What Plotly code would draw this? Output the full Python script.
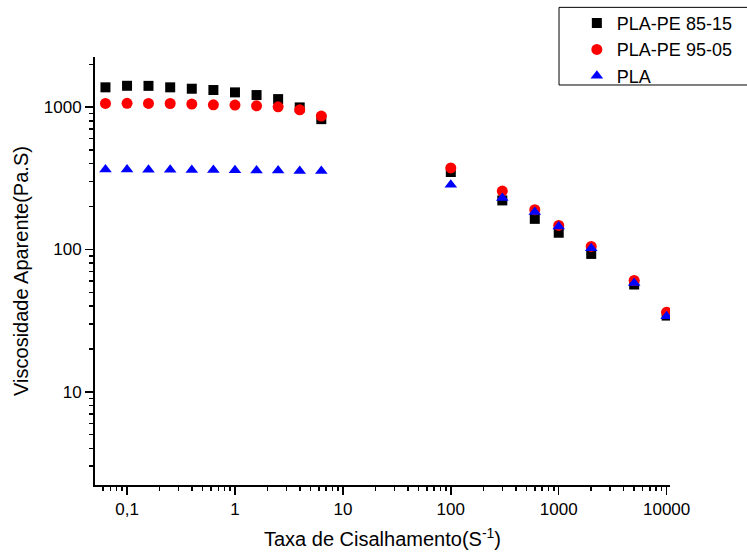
import plotly.graph_objects as go

# Shear rate (1/s)
shear_rate = [0.0631, 0.1, 0.158, 0.251, 0.398, 0.631, 1.0, 1.585, 2.512, 3.981, 6.31,
              100, 300, 600, 1000, 2000, 5000, 10000]

# Apparent viscosity (Pa.s)
visc_85_15 = [1377, 1412, 1410, 1377, 1346, 1318, 1269, 1215, 1138, 995, 823,
              350, 221, 164, 131, 93, 56.7, 34.3]
visc_95_05 = [1062, 1064, 1062, 1060, 1050, 1038, 1033, 1021, 1005, 957, 865,
              374, 257, 190, 147.5, 105, 60.5, 36.2]
visc_pla = [365, 364, 363, 363, 362, 361, 360, 359, 358, 356, 355,
            285, 230, 183, 145, 102, 58, 33.9]

series_names = ["PLA-PE 85-15", "PLA-PE 95-05", "PLA"]

x_tickvals = [0.1, 1, 10, 100, 1000, 10000]
x_ticktext = ["0,1", "1", "10", "100", "1000", "10000"]
y_tickvals = [10, 100, 1000]
y_ticktext = ["10", "100", "1000"]

x_minor = [m * 10 ** e for e in range(-2, 5) for m in range(2, 10)]
y_minor = [m * 10 ** e for e in range(0, 4) for m in range(2, 10)]

FONT = "Liberation Sans, Arial, sans-serif"

fig = go.Figure()
fig.add_trace(go.Scatter(x=shear_rate, y=visc_85_15, mode="markers", name=series_names[0],
                         marker=dict(symbol="square", size=10, color="black")))
fig.add_trace(go.Scatter(x=shear_rate, y=visc_95_05, mode="markers", name=series_names[1],
                         marker=dict(symbol="circle", size=11, color="red")))
fig.add_trace(go.Scatter(x=shear_rate, y=visc_pla, mode="markers", name=series_names[2],
                         marker=dict(symbol="triangle-up", size=11, color="blue")))

axis_common = dict(
    showline=True, linecolor="black", linewidth=2, mirror=False,
    showgrid=False, zeroline=False,
    ticks="outside", ticklen=8, tickwidth=1.5, tickcolor="black",
    tickfont=dict(family=FONT, size=17, color="black"),
)

fig.update_xaxes(type="log", range=[-1.297, 4.031],
                 tickvals=x_tickvals, ticktext=x_ticktext,
                 minor=dict(tickvals=x_minor, ticks="outside", ticklen=4,
                            tickwidth=1.5, tickcolor="black", showgrid=False),
                 title=dict(text="Taxa de Cisalhamento(S<sup>-1</sup>)",
                            font=dict(family=FONT, size=20, color="black"), standoff=14),
                 **axis_common)
fig.update_yaxes(type="log", range=[0.345, 3.352],
                 tickvals=y_tickvals, ticktext=y_ticktext,
                 minor=dict(tickvals=y_minor, ticks="outside", ticklen=4,
                            tickwidth=1.5, tickcolor="black", showgrid=False),
                 title=dict(text="Viscosidade Aparente(Pa.S)",
                            font=dict(family=FONT, size=20, color="black"), standoff=10),
                 **axis_common)

fig.add_shape(type="rect", xref="paper", yref="paper",
              x0=0.807, x1=1.16, y0=0.9346, y1=1.116,
              line=dict(color="black", width=1), fillcolor="rgba(0,0,0,0)")

fig.update_layout(
    width=747, height=554,
    margin=dict(l=95, r=77, t=57, b=69, autoexpand=False),
    paper_bgcolor="white", plot_bgcolor="white",
    showlegend=True,
    hovermode=False,
    legend=dict(x=0.838, y=1.122, xanchor="left", yanchor="top",
                bgcolor="rgba(0,0,0,0)", borderwidth=0,
                font=dict(family=FONT, size=18, color="black")),
)

fig.write_html("out.html",
               config={"displayModeBar": False, "staticPlot": True},
               post_script="document.body.style.margin='0';document.body.style.overflow='hidden';")
